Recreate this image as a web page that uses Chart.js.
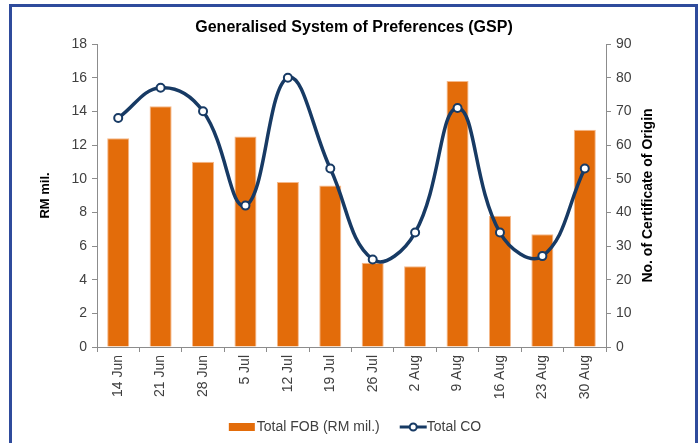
<!DOCTYPE html>
<html>
<head>
<meta charset="utf-8">
<script src="https://cdn.jsdelivr.net/npm/chart.js@4.4.0/dist/chart.umd.min.js"></script>
<style>
  html, body { margin: 0; padding: 0; background: #fff; }
  #wrap { position: relative; width: 699px; height: 443px; overflow: hidden; }
  #frame {
    position: absolute; left: 9px; top: 4px; width: 689px; height: 480px;
    box-sizing: border-box; border: 3px solid #2f4b9c; border-bottom: none;
  }
  canvas { position: absolute; left: 0; top: 0; }
</style>
</head>
<body>
<div id="wrap">
  <div id="frame"></div>
  <canvas id="chart" width="699" height="443"></canvas>
</div>
<script>
// GSP weekly figures
var weeks = ['14 Jun', '21 Jun', '28 Jun', '5 Jul', '12 Jul', '19 Jul', '26 Jul', '2 Aug', '9 Aug', '16 Aug', '23 Aug', '30 Aug'];
var totalFob = [12.4, 14.3, 11.0, 12.5, 9.8, 9.6, 5.0, 4.8, 15.8, 7.8, 6.7, 12.9];
var totalCo = [68, 77, 70, 42, 80, 53, 26, 34, 71, 34, 27, 53];

var chartTitle = 'Generalised System of Preferences (GSP)';
var rightTitle = 'No. of Certificate of Origin';

var FONT = '"Liberation Sans", Arial, sans-serif';
var AXIS = '#8c8c8c';
var TXT = '#404040';
var ORANGE = '#e36c0a';
var NAVY = '#173a64';

// title, right axis title (reads bottom-to-top) and the legend
var extrasPlugin = {
    id: 'extras',
    afterDraw: function(chart) {
        var ctx = chart.ctx;
        var area = chart.chartArea;

        ctx.save();
        ctx.fillStyle = '#000';
        ctx.font = 'bold 16px ' + FONT;
        ctx.textAlign = 'center';
        ctx.textBaseline = 'middle';
        ctx.fillText(chartTitle, 354, 28);
        ctx.restore();

        ctx.save();
        ctx.fillStyle = '#000';
        ctx.font = 'bold 14px ' + FONT;
        ctx.textAlign = 'center';
        ctx.textBaseline = 'middle';
        ctx.translate(648, (area.top + area.bottom) / 2);
        ctx.rotate(-Math.PI / 2);
        ctx.fillText(rightTitle, 0, 0);
        ctx.restore();

        var barSet = chart.data.datasets.filter(function(d) { return d.type !== 'line'; })[0];
        var lineSet = chart.data.datasets.filter(function(d) { return d.type === 'line'; })[0];

        ctx.save();
        ctx.font = '14px ' + FONT;
        ctx.textBaseline = 'middle';
        var w1 = ctx.measureText(barSet.label).width;
        var w2 = ctx.measureText(lineSet.label).width;
        var total = 26 + 2 + w1 + 20 + 27 + w2;
        var x = 355 - total / 2;
        var y = 427;
        ctx.fillStyle = ORANGE;
        ctx.fillRect(x, y - 4, 26, 8);
        x += 28;
        ctx.fillStyle = TXT;
        ctx.fillText(barSet.label, x, y);
        x += w1 + 20;
        ctx.strokeStyle = NAVY;
        ctx.lineWidth = 3;
        ctx.beginPath();
        ctx.moveTo(x, y);
        ctx.lineTo(x + 27, y);
        ctx.stroke();
        ctx.beginPath();
        ctx.arc(x + 13.5, y, 3.5, 0, Math.PI * 2);
        ctx.fillStyle = '#fff';
        ctx.fill();
        ctx.lineWidth = 2;
        ctx.stroke();
        x += 27;
        ctx.fillStyle = TXT;
        ctx.fillText(lineSet.label, x, y);
        ctx.restore();
    }
};

new Chart(document.getElementById('chart').getContext('2d'), {
    type: 'bar',
    data: {
        labels: weeks,
        datasets: [{
            type: 'line',
            label: 'Total CO',
            data: totalCo,
            yAxisID: 'y2',
            borderColor: NAVY,
            borderWidth: 3.5,
            tension: 0.42,
            pointRadius: 4,
            pointBackgroundColor: '#fff',
            pointBorderColor: NAVY,
            pointBorderWidth: 2,
            fill: false,
            order: 0
        }, {
            label: 'Total FOB (RM mil.)',
            data: totalFob,
            yAxisID: 'y',
            backgroundColor: ORANGE,
            borderColor: '#f5b88a',
            borderWidth: 1,
            categoryPercentage: 1,
            barPercentage: 0.52,
            order: 1
        }]
    },
    options: {
        responsive: false,
        animation: false,
        layout: { padding: { left: 31, right: 0, top: 44, bottom: 36 } },
        plugins: {
            legend: { display: false },
            tooltip: { enabled: false },
            title: { display: false }
        },
        scales: {
            x: {
                grid: { offset: true, drawOnChartArea: false, color: AXIS, tickLength: 5 },
                border: { color: AXIS },
                ticks: { color: TXT, font: { family: FONT, size: 14 }, minRotation: 90, maxRotation: 90, padding: 3 },
                afterFit: function(s) { s.height = 60; }
            },
            y: {
                position: 'left',
                min: 0, max: 18,
                grid: { drawOnChartArea: false, color: AXIS, tickLength: 5 },
                border: { color: AXIS },
                ticks: { stepSize: 2, color: TXT, font: { family: FONT, size: 14 }, padding: 5 },
                title: { display: true, text: 'RM mil.', color: '#000', font: { family: FONT, size: 13, weight: 'bold' }, padding: { top: 7, bottom: 0 } },
                afterFit: function(s) { s.width = 66; }
            },
            y2: {
                position: 'right',
                min: 0, max: 90,
                grid: { drawOnChartArea: false, color: AXIS, tickLength: 5 },
                border: { color: AXIS },
                ticks: { stepSize: 10, color: TXT, font: { family: FONT, size: 14 }, padding: 5 },
                afterFit: function(s) { s.width = 93; }
            }
        }
    },
    plugins: [extrasPlugin]
});
</script>
</body>
</html>
